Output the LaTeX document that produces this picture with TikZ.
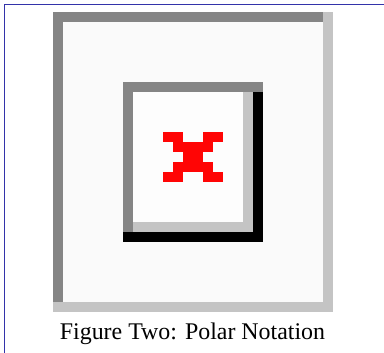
\documentclass[tikz,border=0pt]{standalone}
\usepackage{fontspec}
\setmainfont{Liberation Serif}
\usepackage{tikz}
\usetikzlibrary{positioning}
\definecolor{pagerule}{HTML}{3333AA}
\definecolor{frmdark}{HTML}{858585}
\definecolor{frmlight}{HTML}{C4C4C4}
\definecolor{outfill}{HTML}{FAFAFA}
\definecolor{infill}{HTML}{FDFDFD}
\definecolor{crossred}{HTML}{FF0505}
\tikzset{
  pageline/.style = {draw=pagerule, line width=1.2pt},
  darkband/.style = {fill=frmdark},
  lightband/.style = {fill=frmlight},
  pix/.style = {fill=crossred},
  caption/.style = {font=\fontsize{23.9}{28}\selectfont, inner sep=0pt, anchor=base},
}

\begin{document}
\begin{tikzpicture}[x=1pt, y=-1pt]
        \useasboundingbox (0,0) rectangle (384,353);
        \fill[white] (0,0) rectangle (384,353);
        % page rules
        \coordinate (tl) at (4.5,4.4);
        \coordinate (tr) at (384,4.4);
        \coordinate (bl) at (4.5,353);
        \draw[pageline] (tr) -- (tl) -- (bl);
        % outer frame
        \fill[outfill] (53,12) rectangle (333,312);
        \fill[darkband]  (53,12)  rectangle (323,22);
        \fill[darkband]  (53,22)  rectangle (63,302);
        \fill[lightband] (323,12) rectangle (333,312);
        \fill[lightband] (53,302) rectangle (323,312);
        % inner frame
        \fill[infill] (133,92) rectangle (243,222);
        \fill[darkband]  (123,82)  rectangle (263,92);
        \fill[darkband]  (123,92)  rectangle (133,232);
        \fill[lightband] (243,92)  rectangle (253,232);
        \fill[lightband] (133,222) rectangle (243,232);
        \fill[black]     (253,92)  rectangle (263,242);
        \fill[black]     (123,232) rectangle (253,242);
        % red cross
        \fill[pix] (163,131.7) rectangle (183,141.7);
        \fill[pix] (203,131.7) rectangle (223,141.7);
        \fill[pix] (173,141.7) rectangle (213,151.7);
        \fill[pix] (183,151.7) rectangle (203,161.7);
        \fill[pix] (173,161.7) rectangle (213,171.7);
        \fill[pix] (163,171.7) rectangle (183,181.7);
        \fill[pix] (203,171.7) rectangle (223,181.7);
        \node[caption] (cap) at (192.5,340) {Figure Two: Polar Notation};
    \end{tikzpicture}
\end{document}
